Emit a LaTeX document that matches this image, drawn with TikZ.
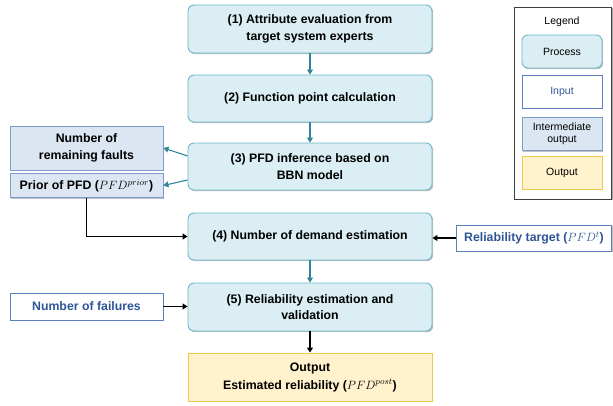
\documentclass[tikz,border=0pt]{standalone}
\usepackage{fontspec}
\setmainfont{Liberation Sans}
\usetikzlibrary{shadows,arrows.meta}

\definecolor{procfill}{HTML}{DAEEF3}
\definecolor{procline}{HTML}{6FB7CB}
\definecolor{flowteal}{HTML}{31849B}
\definecolor{interfill}{HTML}{DCE6F2}
\definecolor{interline}{HTML}{7E9CCB}
\definecolor{inline}{HTML}{5B7FC0}
\definecolor{intext}{HTML}{2F5597}
\definecolor{outfill}{HTML}{FFF2CC}
\definecolor{outline}{HTML}{F2C84B}

\tikzset{
  boxshadow/.style={drop shadow={shadow xshift=1.2pt, shadow yshift=-1.2pt, opacity=0.25, fill=black}},
  boxfont/.style={font=\fontsize{12.3}{16.5}\selectfont\bfseries},
  proc/.style={draw=procline, fill=procfill, line width=0.9pt, rounded corners=6pt,
    boxshadow, align=center, boxfont},
  inter/.style={draw=interline, fill=interfill, line width=0.9pt,
    boxshadow, align=center, boxfont},
  inbox/.style={draw=inline, fill=white, line width=0.9pt, text=intext,
    boxshadow, align=center, boxfont},
  outbox/.style={draw=outline, fill=outfill, line width=0.9pt,
    boxshadow, align=center, font=\fontsize{12.3}{18}\selectfont\bfseries},
  legitem/.style={minimum width=80pt, minimum height=33pt, inner sep=1pt,
    font=\fontsize{10.5}{12.5}\selectfont, align=center},
  tealarrow/.style={draw=flowteal, line width=1.1pt, -{Triangle[length=5pt,width=6pt]}},
  blackarrow/.style={draw=black, line width=1.1pt, -{Triangle[length=5pt,width=6pt]}}
}

\begin{document}
\begin{tikzpicture}[x=1pt, y=-1pt]
  \useasboundingbox (0,0) rectangle (613,406);

  % main process chain
  \node[proc, minimum width=244pt, minimum height=48pt] (p1) at (310,29)
    {(1) Attribute evaluation from\\target system experts};
  \node[proc, minimum width=244pt, minimum height=47pt] (p2) at (310,98.5)
    {(2) Function point calculation};
  \node[proc, minimum width=244pt, minimum height=47pt] (p3) at (310,166.5)
    {(3) PFD inference based on\\BBN model};
  \node[proc, minimum width=244pt, minimum height=47pt] (p4) at (310,236.5)
    {(4) Number of demand estimation};
  \node[proc, minimum width=244pt, minimum height=48pt] (p5) at (310,307)
    {(5) Reliability estimation and\\validation};
  \node[outbox, minimum width=244pt, minimum height=48pt] (out) at (310,377)
    {Output\\Estimated reliability ($PFD^{post}$)};

  % intermediate outputs
  \node[inter, minimum width=153pt, minimum height=44pt] (rem) at (86.5,148)
    {Number of\\remaining faults};
  \node[inter, minimum width=153pt, minimum height=24pt, inner sep=1pt] (prior) at (86.5,185.5)
    {Prior of PFD ($PFD^{prior}$)};

  % inputs
  \node[inbox, minimum width=155pt, minimum height=26pt, inner sep=1pt] (rt) at (534,238)
    {Reliability target ($PFD^{t}$)};
  \node[inbox, minimum width=153pt, minimum height=27pt] (nf) at (86.5,306.5)
    {Number of failures};

  % connectors
  \draw[tealarrow] (p1) -- (p2);
  \draw[tealarrow] (p2) -- (p3);
  \draw[tealarrow] (p4) -- (p5);
  \draw[blackarrow] (p5) -- (out);
  \draw[tealarrow] ([yshift=10.5pt]p3.west) -- (rem.east);
  \draw[tealarrow] ([yshift=-13.5pt]p3.west) -- (prior.east);
  \draw[blackarrow] (prior.south) |- (p4.west);
  \draw[blackarrow] (rt.west) -- (rt.west -| p4.east);
  \draw[blackarrow] (nf.east) -- (nf.east -| p5.west);

  % legend
  \node[draw=black!75, fill=white, line width=0.9pt, minimum width=97pt, minimum height=192pt,
    drop shadow={shadow xshift=1.5pt, shadow yshift=-1.5pt, opacity=0.35, fill=black}] (leg) at (562.5,103) {};
  \node[font=\fontsize{10.5}{12}\selectfont] (legtitle) at (562,22) {Legend};
  \node[legitem, draw=procline, fill=procfill, line width=0.9pt, rounded corners=6pt, boxshadow] (lproc) at (562,51.5) {Process};
  \node[legitem, draw=inline, fill=white, text=intext, line width=0.9pt, boxshadow] (lin) at (562,91.5) {Input};
  \node[legitem, draw=interline, fill=interfill, line width=0.9pt, boxshadow] (linter) at (562,134) {Intermediate\\output};
  \node[legitem, draw=outline, fill=outfill, line width=0.9pt, boxshadow] (lout) at (562,172.5) {Output};
\end{tikzpicture}
\end{document}
